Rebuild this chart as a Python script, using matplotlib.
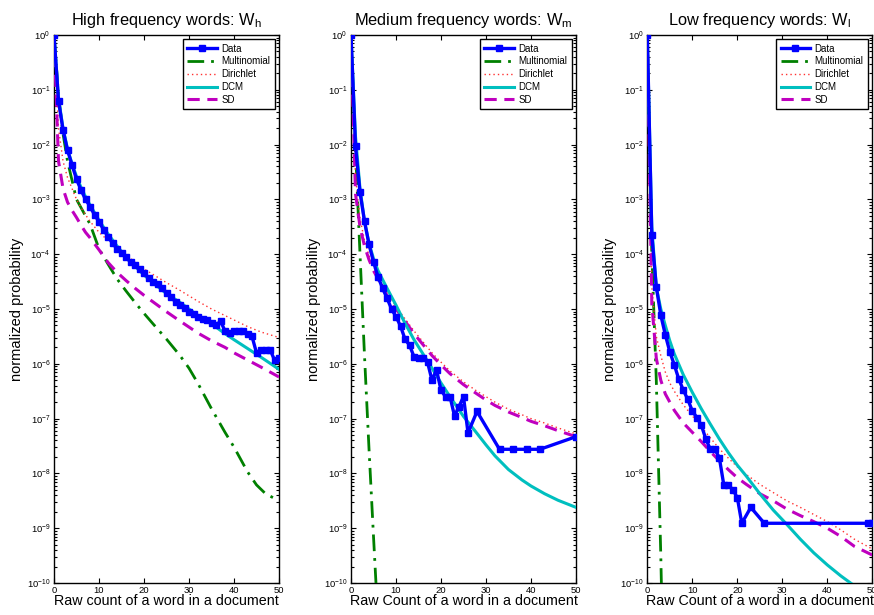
import numpy as np
import matplotlib
matplotlib.use("Agg")
import matplotlib.pyplot as plt
from matplotlib.ticker import LogLocator, NullFormatter, FixedLocator

plt.rcParams['font.family'] = ['Liberation Sans', 'DejaVu Sans']
plt.rcParams['mathtext.fontset'] = 'custom'
plt.rcParams['mathtext.rm'] = 'Liberation Sans'
plt.rcParams['mathtext.it'] = 'Liberation Sans:italic'
plt.rcParams['mathtext.bf'] = 'Liberation Sans:bold'

# ---------------- data (log10 of normalized probability) ----------------
titles = ["High frequency words: W$_{\\mathregular{h}}$",
          "Medium frequency words: W$_{\\mathregular{m}}$",
          "Low frequency words: W$_{\\mathregular{l}}$"]
xlabels = ["Raw count of a word in a document",
           "Raw Count of a word in a document",
           "Raw Count of a word in a document"]
legend_labels = ["Data", "Multinomial", "Dirichlet", "DCM", "SD"]

# Panel 1: high frequency
high_data_x = list(range(0, 51))
high_data = [0, -1.2, -1.73, -2.1, -2.37, -2.63, -2.83, -3.0, -3.13, -3.28,
             -3.41, -3.55, -3.68, -3.8, -3.9, -3.98, -4.06, -4.14, -4.2, -4.27,
             -4.35, -4.43, -4.5, -4.55, -4.62, -4.7, -4.78, -4.87, -4.93, -4.98,
             -5.05, -5.1, -5.15, -5.18, -5.2, -5.25, -5.3, -5.22, -5.4, -5.44,
             -5.4, -5.41, -5.41, -5.45, -5.5, -5.8, -5.74, -5.74, -5.74, -5.93, -5.9]
high_mult_x = [0, 1, 2, 3, 4, 5, 6, 7, 8, 10, 12, 14, 16, 18, 20, 22, 25, 28, 30, 32, 35, 38, 40, 43, 45, 47, 50]
high_mult = [0, -1.1, -1.8, -2.3, -2.65, -3.0, -3.15, -3.3, -3.45, -3.9, -4.18, -4.45, -4.67, -4.88, -5.08,
             -5.27, -5.55, -5.85, -6.08, -6.36, -6.82, -7.25, -7.52, -7.97, -8.21, -8.37, -8.5]
high_model_x = [0, 1, 2, 3, 4, 5, 6, 7, 8, 10, 12, 14, 16, 18, 20, 22, 25, 28, 30, 32, 35, 38, 40, 43, 46, 50]
high_dir = [0, -1.7, -2.3, -2.6, -2.8, -3.0, -3.15, -3.28, -3.4, -3.6, -3.75, -3.88, -4.0, -4.15, -4.27,
            -4.37, -4.52, -4.66, -4.76, -4.86, -5.0, -5.12, -5.2, -5.32, -5.42, -5.52]
high_dcm = [0, -1.15, -1.7, -2.08, -2.35, -2.58, -2.78, -2.95, -3.1, -3.38, -3.63, -3.85, -4.05, -4.22, -4.38,
            -4.52, -4.72, -4.88, -5.0, -5.12, -5.27, -5.45, -5.56, -5.72, -5.88, -6.1]
high_sd = [0, -2.3, -2.8, -3.05, -3.2, -3.33, -3.47, -3.6, -3.7, -3.92, -4.15, -4.33, -4.48, -4.62, -4.75,
           -4.87, -5.05, -5.22, -5.33, -5.44, -5.58, -5.7, -5.8, -5.93, -6.06, -6.24]

# Panel 2: medium frequency
med_data_x = list(range(0, 27)) + [28, 33, 36, 39, 42, 50]
med_data = [0, -2.03, -2.87, -3.4, -3.82, -4.14, -4.41, -4.62, -4.8, -5.0,
            -5.14, -5.31, -5.55, -5.66, -5.87, -5.9, -5.9, -5.97, -6.3, -6.11,
            -6.48, -6.6, -6.6, -6.95, -6.78, -6.6, -7.26, -6.87, -7.56, -7.56, -7.56, -7.56, -7.33]
med_mult_x = [0, 1, 2, 3, 4, 5, 6]
med_mult = [0, -2.1, -4.0, -5.85, -7.55, -9.15, -10.7]
med_model_x = [0, 1, 2, 3, 4, 5, 6, 8, 10, 12, 14, 16, 18, 20, 22, 25, 28, 30, 32, 35, 38, 40, 43, 46, 50]
med_dir = [0, -2.6, -3.35, -3.75, -4.02, -4.22, -4.4, -4.7, -4.95, -5.18, -5.4, -5.6, -5.8, -5.97, -6.13,
           -6.33, -6.5, -6.6, -6.7, -6.83, -6.93, -7.0, -7.08, -7.17, -7.28]
med_dcm = [0, -1.85, -2.8, -3.4, -3.8, -4.08, -4.3, -4.62, -4.93, -5.26, -5.56, -5.82, -6.08, -6.35, -6.6,
           -6.96, -7.27, -7.48, -7.68, -7.93, -8.12, -8.23, -8.37, -8.49, -8.62]
med_sd = [0, -2.9, -3.5, -3.85, -4.1, -4.3, -4.45, -4.75, -5.0, -5.22, -5.45, -5.65, -5.85, -6.02, -6.18,
          -6.38, -6.55, -6.66, -6.76, -6.88, -6.98, -7.05, -7.13, -7.22, -7.33]

# Panel 3: low frequency
low_data_x = list(range(0, 22)) + [23, 26, 49, 50]
low_data = [0, -3.65, -4.6, -5.11, -5.47, -5.78, -6.02, -6.28, -6.48, -6.65,
            -6.86, -6.98, -7.12, -7.37, -7.56, -7.56, -7.71, -8.21, -8.21, -8.3,
            -8.44, -8.91, -8.62, -8.91, -8.91, -8.91]
low_mult_x = [0, 1, 2, 3, 4]
low_mult = [0, -4.0, -6.3, -9.5, -13.5]
low_model_x = [0, 1, 2, 3, 4, 5, 6, 8, 10, 12, 14, 16, 18, 20, 22, 25, 28, 31, 34, 37, 40, 43, 46, 50]
low_dir = [0, -4.6, -5.5, -5.85, -6.15, -6.35, -6.5, -6.75, -6.95, -7.15, -7.35, -7.55, -7.72, -7.88,
           -8.02, -8.2, -8.35, -8.5, -8.62, -8.75, -8.88, -9.03, -9.2, -9.38]
low_dcm = [0, -3.5, -4.6, -5.0, -5.3, -5.58, -5.82, -6.2, -6.52, -6.82, -7.1, -7.37, -7.62, -7.85,
           -8.05, -8.37, -8.67, -8.93, -9.2, -9.45, -9.67, -9.87, -10.05, -10.3]
low_sd = [0, -4.9, -5.9, -6.3, -6.55, -6.7, -6.85, -7.08, -7.25, -7.42, -7.6, -7.77, -7.93, -8.08,
          -8.2, -8.37, -8.5, -8.65, -8.77, -8.88, -9.0, -9.15, -9.33, -9.49]

panels = [
    (high_data_x, high_data, high_mult_x, high_mult, high_model_x, high_dir, high_dcm, high_sd),
    (med_data_x, med_data, med_mult_x, med_mult, med_model_x, med_dir, med_dcm, med_sd),
    (low_data_x, low_data, low_mult_x, low_mult, low_model_x, low_dir, low_dcm, low_sd),
]

x_ticks = [0, 10, 20, 30, 40, 50]

# ---------------- figure ----------------
W, H = 874, 615
fig = plt.figure(figsize=(W / 100, H / 100), dpi=100)
lefts = [54, 351, 647.3]
ax_w = 225
ax_top, ax_bot = 35, 583

blue = '#0000ff'
green = '#008000'
red = '#ff3030'
cyan = '#00bfbf'
magenta = '#bf00bf'

for i, (dx, dy, mx, my, px, pdir, pdcm, psd) in enumerate(panels):
    ax = fig.add_axes([lefts[i] / W, 1 - ax_bot / H, ax_w / W, (ax_bot - ax_top) / H])
    p = lambda v: np.power(10.0, np.asarray(v, dtype=float))
    l_data, = ax.plot(dx, p(dy), '-s', color=blue, lw=2.4, ms=4.6, mfc=blue, mec=blue, zorder=6)
    l_mult, = ax.plot(mx, p(my), color=green, lw=2.0, dashes=(6, 2.5, 1, 2.5), zorder=3)
    l_dir, = ax.plot(px, p(pdir), color=red, lw=1.0, linestyle=(0, (1, 2.2)), zorder=4)
    l_dcm, = ax.plot(px, p(pdcm), color=cyan, lw=2.2, zorder=5)
    l_sd, = ax.plot(px, p(psd), color=magenta, lw=2.2, dashes=(4, 2.5), zorder=4)

    ax.set_yscale('log')
    ax.set_xlim(0, 50)
    ax.set_ylim(1e-10, 1)
    ax.xaxis.set_major_locator(FixedLocator(x_ticks))
    ax.yaxis.set_major_locator(LogLocator(base=10, numticks=20))
    ax.yaxis.set_minor_locator(LogLocator(base=10, subs=np.arange(2, 10), numticks=20))
    ax.yaxis.set_minor_formatter(NullFormatter())
    ax.tick_params(which='both', direction='in', top=True, right=True, labelsize=6.8,
                   width=0.8, pad=2.5)
    ax.tick_params(which='major', length=3.5)
    ax.tick_params(which='minor', length=2)
    for s in ax.spines.values():
        s.set_linewidth(1.0)

    ax.set_title(titles[i], fontsize=11.8, pad=7)
    ax.set_xlabel(xlabels[i], fontsize=10.3, labelpad=-1)
    ax.set_ylabel("normalized probability", fontsize=10.5, labelpad=2)

    leg = ax.legend([l_data, l_mult, l_dir, l_dcm, l_sd], legend_labels, loc='upper right',
                    fontsize=7, frameon=True, fancybox=False, framealpha=1, edgecolor='black',
                    handlelength=3.0, handletextpad=0.5, labelspacing=0.28, borderpad=0.45,
                    borderaxespad=0.45, numpoints=1)
    leg.get_frame().set_linewidth(1.0)

fig.savefig('out.png', dpi=100, facecolor='white')
